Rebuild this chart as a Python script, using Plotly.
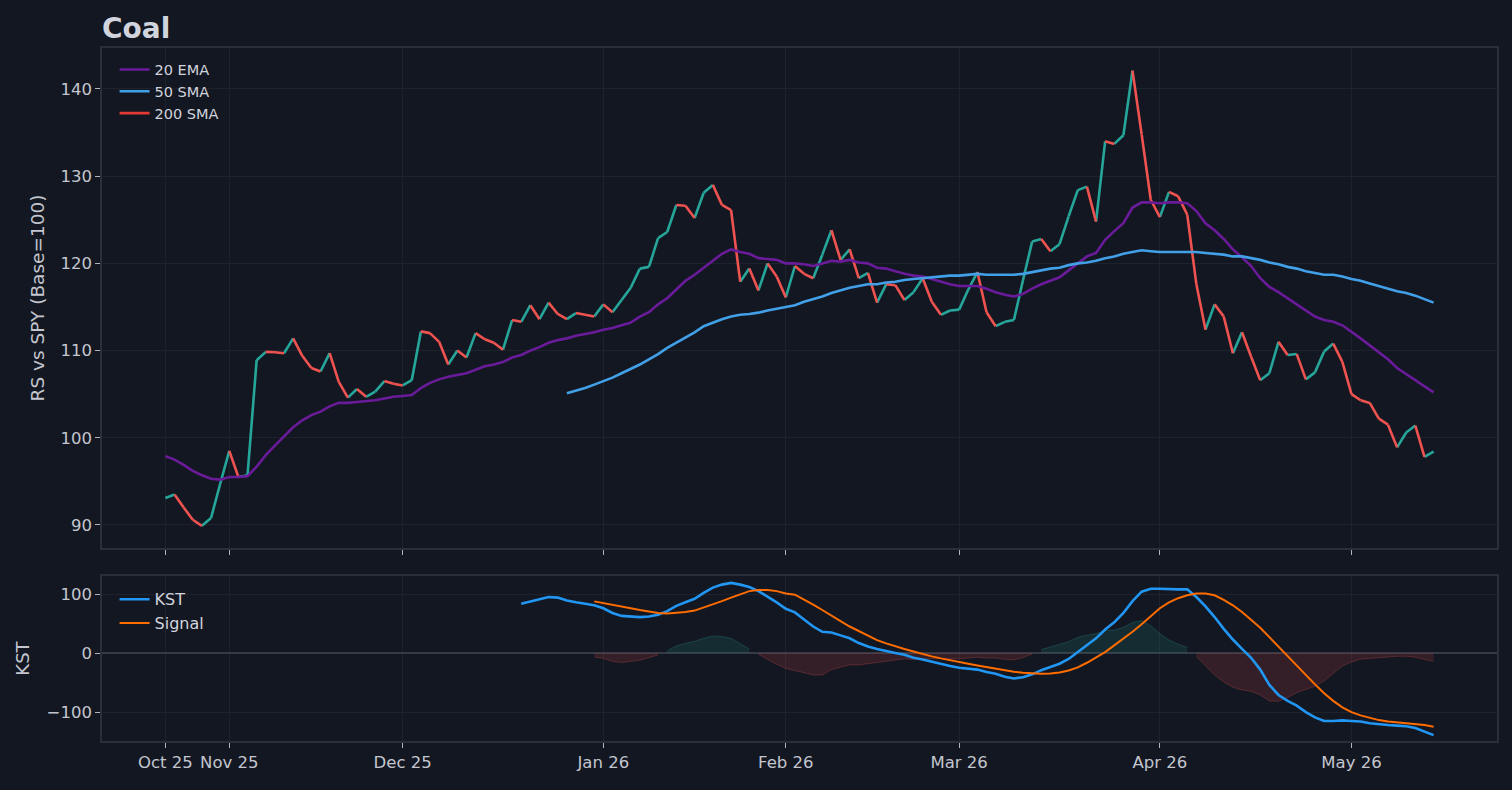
"""
Coal: relative strength vs SPY with moving averages and KST oscillator
"""
import pandas as pd
import plotly.graph_objects as go
from plotly.subplots import make_subplots

"""
SECTION 1: DATA
"""
START_DATE = "2025-10-23"
END_DATE = "2026-05-14"
MARKET_HOLIDAYS = ["2025-11-27", "2025-12-25", "2026-01-01",
                   "2026-01-19", "2026-02-16", "2026-04-03"]

# RS vs SPY, one value per trading session (base = 100)
rs_values = [
    93.1, 93.5, 92.0, 90.6, 89.9, 90.8, 94.7, 98.5, 95.5, 95.7,
    108.9, 109.85, 109.8, 109.7, 111.4, 109.4, 108.0, 107.6, 109.7, 106.4,
    104.6, 105.6, 104.7, 105.3, 106.5, 106.2, 106.0, 106.6, 112.2, 112.0,
    111.0, 108.4, 110.0, 109.2, 112.0, 111.3, 110.9, 110.1, 113.5, 113.3,
    115.2, 113.6, 115.5, 114.2, 113.6, 114.3, 114.1, 113.9, 115.3, 114.4,
    115.8, 117.2, 119.4, 119.6, 122.9, 123.6, 126.7, 126.6, 125.2, 128.1,
    129.0, 126.7, 126.1, 117.9, 119.4, 116.9, 120.0, 118.5, 116.1, 119.7,
    118.8, 118.3, 121.0, 123.8, 120.4, 121.6, 118.3, 118.9, 115.5, 117.6,
    117.5, 115.8, 116.7, 118.3, 115.6, 114.1, 114.6, 114.7, 117.0, 119.0,
    114.4, 112.8, 113.3, 113.5, 118.1, 122.5, 122.8, 121.4, 122.2, 125.4,
    128.4, 128.8, 124.8, 134.0, 133.7, 134.7, 142.1, 134.8, 127.3, 125.3,
    128.2, 127.7, 125.6, 117.6, 112.4, 115.3, 113.9, 109.7, 112.1, 109.3,
    106.6, 107.4, 111.0, 109.5, 109.6, 106.7, 107.5, 109.9, 110.8, 108.7,
    105.0, 104.3, 104.0, 102.2, 101.5, 98.9, 100.6, 101.4, 97.8, 98.4,
]

ema_20 = [
    97.9, 97.5, 96.9, 96.2, 95.7, 95.3, 95.2, 95.5, 95.5, 95.6,
    96.7, 98.0, 99.1, 100.1, 101.2, 102.0, 102.6, 103.0, 103.6, 104.0,
    104.0, 104.1, 104.2, 104.3, 104.5, 104.7, 104.8, 104.9, 105.7, 106.3,
    106.7, 107.0, 107.2, 107.4, 107.8, 108.2, 108.4, 108.7, 109.2, 109.5,
    110.0, 110.4, 110.9, 111.2, 111.4, 111.7, 111.9, 112.1, 112.4, 112.6,
    112.9, 113.2, 113.9, 114.4, 115.3, 116.0, 117.0, 118.0, 118.7, 119.5,
    120.4, 121.1, 121.6, 121.3, 121.1, 120.6, 120.5, 120.4, 120.0, 120.0,
    119.9, 119.7, 120.0, 120.3, 120.2, 120.4, 120.1, 120.0, 119.5, 119.4,
    119.1, 118.8, 118.6, 118.5, 118.2, 117.9, 117.6, 117.4, 117.4, 117.4,
    117.1, 116.7, 116.4, 116.2, 116.5, 117.1, 117.6, 118.0, 118.4, 119.2,
    120.0, 120.8, 121.2, 122.7, 123.7, 124.6, 126.4, 127.0, 127.0, 126.9,
    127.0, 127.0, 126.9, 126.0, 124.6, 123.8, 122.8, 121.6, 120.7, 119.7,
    118.3, 117.3, 116.7, 116.0, 115.4, 114.6, 113.9, 113.5, 113.3, 112.9,
    112.2, 111.4, 110.6, 109.8, 109.0, 108.0, 107.3, 106.7, 105.9, 105.2,
]

# 50 SMA only exists from session 44 on
sma_50 = [None] * 44 + [
    105.1, 105.4, 105.7, 106.1, 106.5, 106.9,
    107.4, 107.9, 108.4, 109.0, 109.6, 110.3, 110.9, 111.5, 112.1, 112.8,
    113.2, 113.6, 113.9, 114.1, 114.2, 114.35, 114.6, 114.8, 115.0, 115.2,
    115.6, 115.9, 116.2, 116.6, 116.9, 117.2, 117.4, 117.6, 117.6, 117.8,
    117.9, 118.1, 118.2, 118.3, 118.4, 118.5, 118.6, 118.6, 118.7, 118.8,
    118.7, 118.7, 118.7, 118.7, 118.8, 119.0, 119.2, 119.4, 119.5, 119.8,
    120.0, 120.1, 120.3, 120.6, 120.8, 121.1, 121.3, 121.5, 121.4, 121.3,
    121.3, 121.3, 121.3, 121.3, 121.2, 121.1, 121.0, 120.8, 120.8, 120.6,
    120.4, 120.1, 119.9, 119.6, 119.4, 119.1, 118.9, 118.7, 118.7, 118.5,
    118.2, 118.0, 117.7, 117.4, 117.1, 116.8, 116.6, 116.3, 115.9, 115.5,
]

# not enough history for a 200 SMA in this window
sma_200 = [None] * len(rs_values)

kst_values = [None] * 39 + [
    83.6,
    87, 91, 95, 94, 89, 86, 84, 81, 76, 68,
    63, 62, 61, 62, 65, 71, 80, 86, 92, 102,
    111, 116, 119, 116, 112, 105, 96, 86, 75, 69,
    57, 45, 36, 35, 30, 25, 17, 11, 7, 3,
    0, -3, -8, -11, -15, -19, -22, -25, -26, -28,
    -32, -35, -40, -43, -41, -36, -29, -24, -18, -10,
    2, 14, 25, 40, 52, 68, 88, 104, 109, 109,
    108, 108, 108, 95, 79, 61, 41, 23, 7, -8,
    -28, -54, -71, -81, -89, -100, -109, -115, -115, -114,
    -115, -116, -119, -121, -122, -123, -124, -127, -133, -139,
]

kst_signal = [None] * 47 + [
    87.6, 85, 82,
    79, 76, 73, 70, 68, 67, 68, 69.5, 72, 77,
    82, 88, 94, 100, 105, 107, 107, 105, 101, 99,
    91, 82, 73, 63, 54, 45, 37, 29, 22, 16.4,
    11.3, 6.8, 2.8, -1.7, -5.6, -9, -12.4, -15.3, -18, -21,
    -23.7, -26.5, -29.4, -31.6, -33.3, -34.5, -35, -34.5, -32.8, -29.4,
    -24.3, -16.4, -8, 1.7, 13, 24.3, 36, 49, 63, 76,
    86, 93, 98, 101, 101, 98, 90, 81, 69.5, 56.5,
    43, 27, 10.7, -5.6, -22, -38, -53, -68, -81, -92,
    -100, -105.6, -110, -113.6, -116, -117.5, -118.6, -120, -122, -125,
]

"""
SECTION 2: STYLE
"""
BG = "#131722"
GRID = "#1e222d"
FRAME = "#2a2e39"
TICK_TEXT = "#c3c6ce"
TITLE_TEXT = "#d1d4dc"
UP = "#26a69a"
DOWN = "#ef5350"
EMA_COLOR = "#6a1b9a"
SMA50_COLOR = "#42a0e8"
SMA200_COLOR = "#e53935"
KST_COLOR = "#2196f3"
SIGNAL_COLOR = "#ff6d00"
FONT = "DejaVu Sans"


def trading_days():
    days = pd.bdate_range(START_DATE, END_DATE, freq="C", holidays=MARKET_HOLIDAYS)
    return [d.strftime("%Y-%m-%d") for d in days]


def month_ticks(dates):
    # label the first session of every month
    vals, text = [], []
    for d in dates:
        ts = pd.Timestamp(d)
        if not vals or pd.Timestamp(vals[-1]).month != ts.month:
            vals.append(d)
            text.append(ts.strftime("%b %y"))
    return vals, text


def rs_segments(dates, values):
    # colour each step of the RS line by direction
    up_x, up_y, dn_x, dn_y = [], [], [], []
    for i in range(1, len(values)):
        xs = [dates[i - 1], dates[i], dates[i]]
        ys = [values[i - 1], values[i], None]
        if values[i] >= values[i - 1]:
            up_x += xs
            up_y += ys
        else:
            dn_x += xs
            dn_y += ys
    return up_x, up_y, dn_x, dn_y


def histogram_runs(dates, kst, signal):
    # contiguous runs where KST is above / below its signal
    diff = [k - s if (k is not None and s is not None) else None for k, s in zip(kst, signal)]
    runs = []
    current, sign = [], 0
    for i, v in enumerate(diff):
        s = 0 if v is None or v == 0 else (1 if v > 0 else -1)
        if s != sign and current:
            runs.append((sign, current))
            current = []
        if s != 0:
            current.append(i)
        sign = s
    if current:
        runs.append((sign, current))
    return [(sgn, [dates[i] for i in idx], [diff[i] for i in idx]) for sgn, idx in runs if sgn != 0]


"""
SECTION 3: FIGURE
"""
def build_figure():
    dates = trading_days()
    tick_vals, tick_text = month_ticks(dates)

    fig = make_subplots(rows=2, cols=1, shared_xaxes=False)

    # --- top panel: RS line + averages
    up_x, up_y, dn_x, dn_y = rs_segments(dates, rs_values)
    fig.add_trace(go.Scatter(x=up_x, y=up_y, mode="lines", line=dict(color=UP, width=2.6),
                             showlegend=False, hoverinfo="skip"), row=1, col=1)
    fig.add_trace(go.Scatter(x=dn_x, y=dn_y, mode="lines", line=dict(color=DOWN, width=2.6),
                             showlegend=False, hoverinfo="skip"), row=1, col=1)
    fig.add_trace(go.Scatter(x=dates, y=ema_20, name="20 EMA", mode="lines",
                             line=dict(color=EMA_COLOR, width=2.6), legend="legend"), row=1, col=1)
    fig.add_trace(go.Scatter(x=dates, y=sma_50, name="50 SMA", mode="lines",
                             line=dict(color=SMA50_COLOR, width=2.6), legend="legend"), row=1, col=1)
    fig.add_trace(go.Scatter(x=dates, y=sma_200, name="200 SMA", mode="lines",
                             line=dict(color=SMA200_COLOR, width=2.6), legend="legend"), row=1, col=1)

    # --- bottom panel: KST histogram fill + lines
    for sgn, xs, ys in histogram_runs(dates, kst_values, kst_signal):
        col = "rgba(38,166,154,0.15)" if sgn > 0 else "rgba(239,83,80,0.15)"
        edge = "rgba(38,166,154,0.25)" if sgn > 0 else "rgba(239,83,80,0.25)"
        fig.add_trace(go.Scatter(x=xs, y=ys, mode="lines", fill="tozeroy", fillcolor=col,
                                 line=dict(color=edge, width=1), showlegend=False,
                                 hoverinfo="skip"), row=2, col=1)
    fig.add_trace(go.Scatter(x=dates, y=kst_values, name="KST", mode="lines",
                             line=dict(color=KST_COLOR, width=2.6), legend="legend2"), row=2, col=1)
    fig.add_trace(go.Scatter(x=dates, y=kst_signal, name="Signal", mode="lines",
                             line=dict(color=SIGNAL_COLOR, width=2), legend="legend2"), row=2, col=1)

    axis_common = dict(
        showgrid=True, gridcolor=GRID, gridwidth=1,
        showline=True, linecolor=FRAME, linewidth=1.5, mirror=True,
        ticks="outside", ticklen=5, tickwidth=1.2, tickcolor="#b2b5be",
        tickfont=dict(size=16.5, color=TICK_TEXT), zeroline=False,
    )
    x_common = dict(axis_common, type="category", categoryorder="array", categoryarray=dates,
                    range=[-6.95, len(dates) - 1 + 6.95], tickmode="array",
                    tickvals=tick_vals, ticktext=tick_text)

    fig.update_xaxes(x_common, row=1, col=1, showticklabels=False)
    fig.update_xaxes(x_common, row=2, col=1)
    fig.update_yaxes(axis_common, row=1, col=1, domain=[0.2785, 1.0], range=[87.36, 144.7],
                     tickvals=[90, 100, 110, 120, 130, 140],
                     title=dict(text="RS vs SPY (Base=100)", font=dict(size=18.5, color=TICK_TEXT),
                                standoff=11))
    fig.update_yaxes(axis_common, row=2, col=1, domain=[0.0, 0.238], range=[-149, 130.5],
                     tickvals=[-100, 0, 100], zeroline=True, zerolinecolor="#363a45",
                     zerolinewidth=2,
                     title=dict(text="KST", font=dict(size=18, color=TICK_TEXT), standoff=12))

    fig.update_layout(
        width=1512, height=790,
        paper_bgcolor=BG, plot_bgcolor=BG,
        margin=dict(l=102, r=15, t=48, b=49),
        font=dict(family=FONT, color=TICK_TEXT),
        title=dict(text="<b>Coal</b>", x=0, xref="paper", xanchor="left",
                   y=1 - 28 / 790, yanchor="middle",
                   font=dict(family=FONT, size=28, color=TITLE_TEXT)),
        legend=dict(x=0.009, y=0.992, xanchor="left", yanchor="top",
                    bgcolor="rgba(0,0,0,0)", font=dict(size=14.5, color=TITLE_TEXT),
                    itemwidth=30, tracegroupgap=0),
        legend2=dict(x=0.009, y=0.229, xanchor="left", yanchor="top",
                     bgcolor="rgba(0,0,0,0)", font=dict(size=16, color=TITLE_TEXT),
                     itemwidth=30, tracegroupgap=0),
        showlegend=True,
    )
    return fig


"""
SECTION 4: MAIN EXECUTION
"""
def main():
    fig = build_figure()
    # drop the browser's default body margin so the figure fills the window
    fig.write_html("out.html", config={"displayModeBar": False},
                   post_script="document.body.style.margin='0';")


if __name__ == "__main__":
    main()
